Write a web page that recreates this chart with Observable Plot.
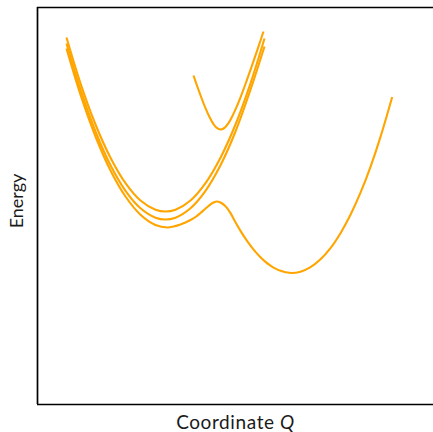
<!DOCTYPE html>
<html>
<head>
<meta charset="utf-8">
<script src="https://cdn.jsdelivr.net/npm/d3@7"></script>
<script src="https://cdn.jsdelivr.net/npm/@observablehq/plot@0.6"></script>
<style>
  html, body { margin: 0; padding: 0; background: #fff; overflow: hidden; }
  #chart { width: 433px; height: 432px; overflow: hidden; }
</style>
</head>
<body>
<div id="chart"></div>
<script>
// Curve A: upper harmonic parabola
const aQ = [0.725, 1.075, 1.45, 1.825, 2.2, 2.575, 2.95, 3.2, 3.45, 3.825, 4.2, 4.575, 4.95, 5.325, 5.675];
const aE = [9.175, 8.03, 7.0, 6.17, 5.535, 5.10, 4.87, 4.825, 4.87, 5.10, 5.535, 6.17, 7.0, 8.03, 9.15];
// Curve B: middle harmonic parabola
const bQ = [0.725, 1.075, 1.45, 1.825, 2.2, 2.575, 2.95, 3.2, 3.45, 3.825, 4.2, 4.575, 4.95, 5.325, 5.675];
const bE = [9.025, 7.87, 6.825, 5.98, 5.34, 4.905, 4.67, 4.625, 4.67, 4.905, 5.34, 5.98, 6.825, 7.87, 8.95];
// Lower adiabatic surface (double well)
const lowQ = [0.725, 1.075, 1.45, 1.825, 2.2, 2.575, 2.95, 3.25, 3.4, 3.575, 3.7, 3.825, 3.95, 4.075, 4.175, 4.275, 4.375, 4.475, 4.575, 4.7, 4.825, 4.95, 5.075, 5.2, 5.325, 5.45, 5.575, 5.7, 5.825, 5.95, 6.075, 6.2, 6.35, 6.575, 6.825, 7.075, 7.325, 7.575, 7.825, 8.075, 8.325, 8.575, 8.8675];
const lowE = [8.9, 7.745, 6.7, 5.85, 5.2, 4.745, 4.4875, 4.425, 4.45, 4.5, 4.55, 4.6125, 4.6875, 4.7875, 4.875, 4.9625, 5.0375, 5.075, 5.05, 4.955, 4.785, 4.556, 4.34, 4.145, 3.97, 3.815, 3.68, 3.565, 3.4725, 3.3975, 3.3425, 3.3075, 3.2875, 3.32, 3.4325, 3.63, 3.91, 4.2825, 4.7425, 5.295, 5.9425, 6.69, 7.6875];
// Upper adiabatic surface
const upQ = [3.9, 4.0, 4.1, 4.2, 4.3, 4.4, 4.475, 4.575, 4.675, 4.775, 4.875, 4.975, 5.075, 5.2, 5.325, 5.45, 5.575, 5.65];
const upE = [8.225, 7.9375, 7.6625, 7.4075, 7.185, 7.01, 6.92, 6.875, 6.9175, 7.035, 7.215, 7.4325, 7.68, 8.0125, 8.365, 8.7275, 9.1, 9.325];

const xLabel = "Coordinate Q";
const yLabel = "Energy";

const curves = [
  {name: "A", Q: aQ, E: aE},
  {name: "B", Q: bQ, E: bE},
  {name: "lower", Q: lowQ, E: lowE},
  {name: "upper", Q: upQ, E: upE}
];
const rows = curves.flatMap(c => c.Q.map((q, i) => ({curve: c.name, Q: q, E: c.E[i]})));

const font = "Lato, 'Open Sans', sans-serif";

const plot = Plot.plot({
  width: 437,
  height: 432,
  marginLeft: 37,
  marginRight: 0,
  marginTop: 7,
  marginBottom: 28,
  style: {fontFamily: font, background: "#fff"},
  x: {domain: [0, 10], axis: null},
  y: {domain: [0, 9.925], axis: null},
  marks: [
    Plot.line(rows, {x: "Q", y: "E", z: "curve", stroke: "#FFA500", strokeWidth: 2.1, strokeLinecap: "butt", curve: "catmull-rom"}),
    Plot.ruleX([0], {stroke: "#000", strokeWidth: 1.7}),
    Plot.ruleY([0, 9.925], {stroke: "#000", strokeWidth: 1.7}),
    Plot.text([yLabel], {frameAnchor: "left", textAnchor: "middle", lineAnchor: "middle", rotate: -90, dx: -20.5, dy: -5, fontSize: 18, fill: "#1a1a1a"}),
    Plot.text([xLabel], {frameAnchor: "bottom", textAnchor: "middle", lineAnchor: "middle", dx: -2, dy: 18, fontSize: 19, fill: "#1a1a1a"})
  ]
});
plot.style.maxWidth = "none";
document.getElementById("chart").appendChild(plot);

// italicise the Q of the x label
plot.querySelectorAll("text").forEach(t => {
  if (t.textContent === xLabel) {
    t.textContent = "";
    t.style.letterSpacing = "0.6px";
    const a = document.createElementNS("http://www.w3.org/2000/svg", "tspan");
    a.textContent = "Coordinate\u00a0";
    const b = document.createElementNS("http://www.w3.org/2000/svg", "tspan");
    b.textContent = "Q";
    b.setAttribute("font-style", "italic");
    b.style.fontStyle = "italic";
    t.appendChild(a);
    t.appendChild(b);
  }
});
</script>
</body>
</html>
